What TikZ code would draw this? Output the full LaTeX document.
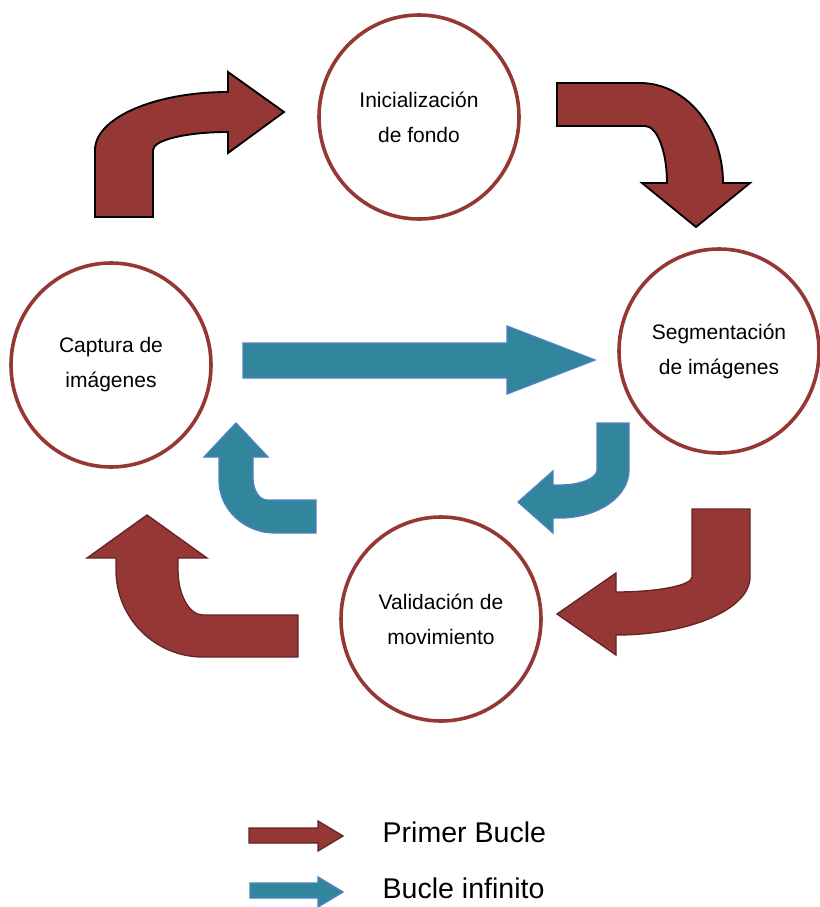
\documentclass[tikz,border=0pt]{standalone}
\usepackage{fontspec}
\setmainfont{Liberation Sans}
\usetikzlibrary{shapes.geometric}
\definecolor{bucle}{HTML}{953735}
\definecolor{bucleline}{HTML}{632523}
\definecolor{infinito}{HTML}{31859C}
\definecolor{infinitoline}{HTML}{4F81BD}
\tikzset{
stage/.style={
	  draw=bucle, line width=2.7pt, fill=white, ellipse,
	    minimum width=150pt, minimum height=153pt, inner sep=0pt,
    align=center, font=\fontsize{15.75}{26.25}\selectfont},
firstloop/.style={fill=bucle, draw=bucleline, line width=1pt},
mainloop/.style={fill=infinito, draw=infinitoline, line width=1pt},
legend/.style={anchor=base west, font=\fontsize{21.4}{25}\selectfont}
}

\begin{document}
\begin{tikzpicture}[x=0.75pt, y=-0.75pt]
	\useasboundingbox (0,0) rectangle (819,907);
	% etapas
	\node[stage] (ini) at (419,117) {Inicialización\\de fondo};
	\node[stage] (seg) at (719,351) {Segmentación\\de imágenes};
	\node[stage] (cap) at (111,365) {Captura de\\imágenes};
	\node[stage] (val) at (441,619) {Validación de\\movimiento};
	% primer bucle
	\draw[firstloop, draw=black, line width=1.4pt] (95,217) -- (95,150)
		arc[start angle=180, end angle=270, x radius=133, y radius=58]
		-- (228,72) -- (284,112) -- (228,153) -- (228,132)
		arc[start angle=270, end angle=180, x radius=75, y radius=18]
		-- (153,217) -- cycle;
	\draw[firstloop, draw=black, line width=1.4pt] (557,83) -- (640,83)
		arc[start angle=270, end angle=360, x radius=83, y radius=100]
		-- (750,183) -- (696,227) -- (642,183) -- (667,183)
		arc[start angle=0, end angle=-90, x radius=22, y radius=57]
		-- (557,126) -- cycle;
	\draw[firstloop] (750,509) -- (750,577)
		arc[start angle=0, end angle=90, x radius=134, y radius=58]
		-- (616,655) -- (557,614) -- (616,573) -- (616,592)
		arc[start angle=90, end angle=0, x radius=76, y radius=15]
		-- (692,509) -- cycle;
	\draw[firstloop] (298,657) -- (203,657)
		arc[start angle=90, end angle=180, x radius=87, y radius=87]
		-- (116,558) -- (87,558) -- (147,515) -- (207,558) -- (178,558) -- (178,570)
		arc[start angle=180, end angle=90, x radius=25, y radius=45]
		-- (298,615) -- cycle;
	% bucle infinito
	\draw[mainloop] (243,343) -- (507,343) -- (507,326) -- (595,360)
		-- (507,394) -- (507,378) -- (243,378) -- cycle;
	\draw[mainloop] (629,423) -- (629,470)
		arc[start angle=0, end angle=90, x radius=69, y radius=48]
		-- (553,518) -- (553,533) -- (518,502) -- (553,471) -- (553,485) -- (560,485)
		arc[start angle=90, end angle=0, x radius=37, y radius=15]
		-- (597,423) -- cycle;
	\draw[mainloop] (316,533) -- (275,533)
		arc[start angle=90, end angle=180, x radius=56, y radius=53]
		-- (219,457) -- (204,457) -- (236,423) -- (268,457) -- (253,457) -- (253,478)
		arc[start angle=180, end angle=90, x radius=14, y radius=22]
		-- (316,500) -- cycle;
	% leyenda
	\draw[firstloop] (249,828) -- (318,828) -- (318,821) -- (343,836)
		-- (318,851) -- (318,843) -- (249,843) -- cycle;
	\draw[mainloop] (250,883) -- (318,883) -- (318,877) -- (343,892)
		-- (318,907) -- (318,898) -- (250,898) -- cycle;
	\node[legend] (primer) at (378,842) {Primer Bucle};
	\node[legend] (infinito) at (378,898) {Bucle infinito};
\end{tikzpicture}
\end{document}
